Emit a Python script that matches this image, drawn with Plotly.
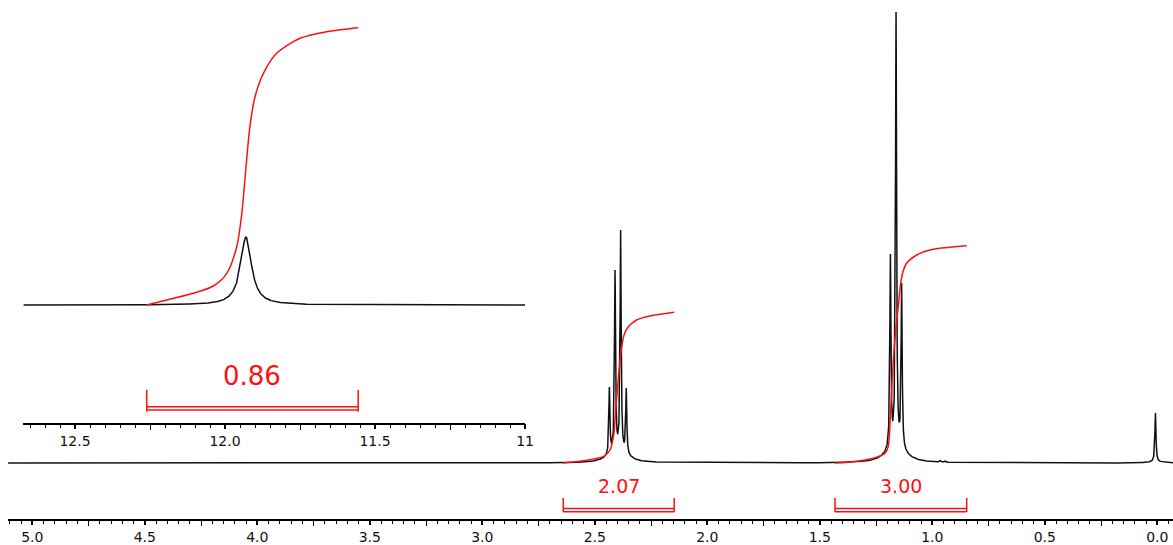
import numpy as np
import plotly.graph_objects as go

# ---------------- data ----------------
# main 1H spectrum: line positions (ppm) and observed top heights (intensity units)
peak_ppm = [2.435, 2.410, 2.385, 2.360, 1.186, 1.161, 1.136, 0.996, 0.965, 0.943, 0.008]
peak_top = [76, 193, 233, 75, 209, 451, 180, 2.0, 2.5, 2.0, 50]
narrow_hwhm = 0.0028   # ppm
broad_hwhm = 0.045     # ppm
broad_frac = 0.02

# inset spectrum (acid OH)
inset_peak_ppm = [11.93]
inset_peak_top = [68]
inset_hwhm = 0.022

# integral curves (ppm, integral height)
int_a_ppm = [2.640, 2.551, 2.462, 2.432, 2.415, 2.406, 2.396, 2.384, 2.370, 2.351, 2.314, 2.255, 2.147]
int_a_val = [0, 2.3, 6.3, 13, 29.7, 56.3, 83, 109.7, 128, 136.3, 143, 147, 150.7]
int_b_ppm = [1.4325, 1.351, 1.262, 1.210, 1.196, 1.185, 1.173, 1.161, 1.151, 1.144, 1.132, 1.114, 1.069, 0.996, 0.847]
int_b_val = [0, 1.3, 4.7, 9.7, 16.3, 53, 103, 136.3, 156.3, 173, 189.7, 199.7, 208, 213.7, 217.3]
int_c_ppm = [12.261, 12.194, 12.106, 12.039, 11.994, 11.961, 11.944, 11.930, 11.917, 11.900, 11.872, 11.828, 11.750, 11.661, 11.556]
int_c_val = [0, 5, 11.7, 19, 31.7, 58.3, 91.7, 138.3, 178.3, 208.3, 231.7, 251.7, 266.7, 273.3, 277.3]
int_labels_main = ["2.07", "3.00"]
int_label_inset = "0.86"

# axis tick labels
main_tick_vals = [5.0, 4.5, 4.0, 3.5, 3.0, 2.5, 2.0, 1.5, 1.0, 0.5, 0.0]
main_tick_text = ["5.0", "4.5", "4.0", "3.5", "3.0", "2.5", "2.0", "1.5", "1.0", "0.5", "0.0"]
main_mid_vals = [4.75, 4.25, 3.75, 3.25, 2.75, 2.25, 1.75, 1.25, 0.75, 0.25]
inset_tick_vals = [12.5, 12.0, 11.5, 11.0]
inset_tick_text = ["12.5", "12.0", "11.5", "11"]
inset_mid_vals = [12.25, 11.75, 11.25]

# ---------------- build line shapes ----------------
def lor(x, c, g):
    return 1.0 / (1.0 + ((x - c) / g) ** 2)

def shape(x, c):
    return (1 - broad_frac) * lor(x, c, narrow_hwhm) + broad_frac * lor(x, c, broad_hwhm)

pp = np.array(peak_ppm)
A = np.array([[shape(pi, pj) for pj in pp] for pi in pp])
amps = np.linalg.solve(A, np.array(peak_top, dtype=float))

XMAIN = [5.108, -0.070]
x = np.union1d(np.arange(XMAIN[1], XMAIN[0], 0.0005), pp)
y = np.zeros_like(x)
for c, a in zip(pp, amps):
    y += a * shape(x, c)

XINS = [12.672, 11.0]
xi = np.union1d(np.arange(XINS[1], XINS[0], 0.001), np.array(inset_peak_ppm))
yi = np.zeros_like(xi)
for c, a in zip(inset_peak_ppm, inset_peak_top):
    yi += a * lor(xi, c, inset_hwhm)

RED = "#ff1010"
fig = go.Figure()
fig.add_trace(go.Scatter(x=x, y=y, mode="lines", line=dict(color="#111", width=1.5),
                         xaxis="x", yaxis="y", hoverinfo="skip", showlegend=False))
for ip, iv in [(int_a_ppm, int_a_val), (int_b_ppm, int_b_val)]:
    fig.add_trace(go.Scatter(x=ip, y=iv, mode="lines",
                             line=dict(color=RED, width=1.5, shape="spline", smoothing=0.8),
                             xaxis="x3", yaxis="y", hoverinfo="skip", showlegend=False))
fig.add_trace(go.Scatter(x=xi, y=yi, mode="lines", line=dict(color="#111", width=1.5),
                         xaxis="x2", yaxis="y2", hoverinfo="skip", showlegend=False))
fig.add_trace(go.Scatter(x=int_c_ppm, y=int_c_val, mode="lines",
                         line=dict(color=RED, width=1.5, shape="spline", smoothing=0.8),
                         xaxis="x4", yaxis="y2", hoverinfo="skip", showlegend=False))

# integral brackets and labels
shapes = []
annos = []
def bracket(xr, yr, xa, v_top, v_bot, h1, h2):
    out = []
    for xx in xa:
        out.append(dict(type="line", xref=xr, yref=yr, x0=xx, x1=xx, y0=v_top, y1=v_bot,
                        line=dict(color=RED, width=1.5)))
    for hy in (h1, h2):
        out.append(dict(type="line", xref=xr, yref=yr, x0=xa[0], x1=xa[1], y0=hy, y1=hy,
                        line=dict(color=RED, width=1.4)))
    return out

for ip, lab in [(int_a_ppm, int_labels_main[0]), (int_b_ppm, int_labels_main[1])]:
    shapes += bracket("x", "y", [ip[0], ip[-1]], -35, -49, -45.5, -48.8)
    annos.append(dict(x=(ip[0] + ip[-1]) / 2, y=-23, xref="x", yref="y", text=lab,
                      showarrow=False, font=dict(family="DejaVu Sans", size=19, color=RED)))
shapes += bracket("x2", "y2", [int_c_ppm[0], int_c_ppm[-1]], -85, -106.7, -101.7, -105)
annos.append(dict(x=(int_c_ppm[0] + int_c_ppm[-1]) / 2, y=-70.7, xref="x2", yref="y2",
                  text=int_label_inset, showarrow=False,
                  font=dict(family="DejaVu Sans", size=26, color=RED)))

tickfont = dict(family="DejaVu Sans", size=14, color="#111")
common = dict(showgrid=False, zeroline=False, showline=True, linecolor="black", linewidth=1.5,
              ticks="outside", tickwidth=1.5, tickcolor="black", tickmode="array",
              tickfont=tickfont, automargin=False)
overlay = dict(showline=False, showgrid=False, zeroline=False, ticks="outside",
               tickcolor="black", tickmode="array", showticklabels=False, automargin=False,
               side="bottom")

fig.update_layout(
    width=1173, height=545, autosize=False,
    margin=dict(l=8, r=0, t=0, b=26, pad=0, autoexpand=False),
    paper_bgcolor="white", plot_bgcolor="rgba(0,0,0,0)",
    showlegend=False,
    # main axis: labels (short ticks so labels sit close), minor ticks every 0.05
    xaxis=dict(domain=[0, 1], range=XMAIN, anchor="y", ticklen=4,
               tickvals=main_tick_vals, ticktext=main_tick_text,
               minor=dict(tickmode="linear", tick0=0, dtick=0.05, ticks="outside",
                          ticklen=3.5, tickwidth=1.2, tickcolor="black"),
               **common),
    # medium ticks every 0.25
    xaxis3=dict(overlaying="x", range=XMAIN, anchor="y", ticklen=5.5, tickwidth=1.3,
                tickvals=main_mid_vals, **overlay),
    # long major ticks every 0.5
    xaxis5=dict(overlaying="x", range=XMAIN, anchor="y", ticklen=7, tickwidth=1.5,
                tickvals=main_tick_vals, **overlay),
    yaxis=dict(domain=[0, 1], range=[-56, 463], visible=False, automargin=False),
    xaxis2=dict(domain=[0.01322, 0.4438], range=XINS, anchor="y2", ticklen=5,
                tickvals=inset_tick_vals, ticktext=inset_tick_text,
                minor=dict(tickmode="linear", tick0=0, dtick=0.05, ticks="outside",
                           ticklen=4, tickwidth=1.2, tickcolor="black"),
                **common),
    xaxis4=dict(overlaying="x2", range=XINS, anchor="y2", ticklen=6, tickwidth=1.3,
                tickvals=inset_mid_vals, **overlay),
    xaxis6=dict(overlaying="x2", range=XINS, anchor="y2", ticklen=8, tickwidth=1.5,
                tickvals=inset_tick_vals, **overlay),
    yaxis2=dict(domain=[0.1859, 1], range=[-117.5, 305], anchor="x2", visible=False,
                automargin=False),
    shapes=shapes,
    annotations=annos,
)

fig.write_html(
    "out.html",
    config={"displayModeBar": False},
    post_script=("document.documentElement.style.overflow='hidden';"
                 "document.body.style.margin='0px';document.body.style.overflow='hidden';"),
)
